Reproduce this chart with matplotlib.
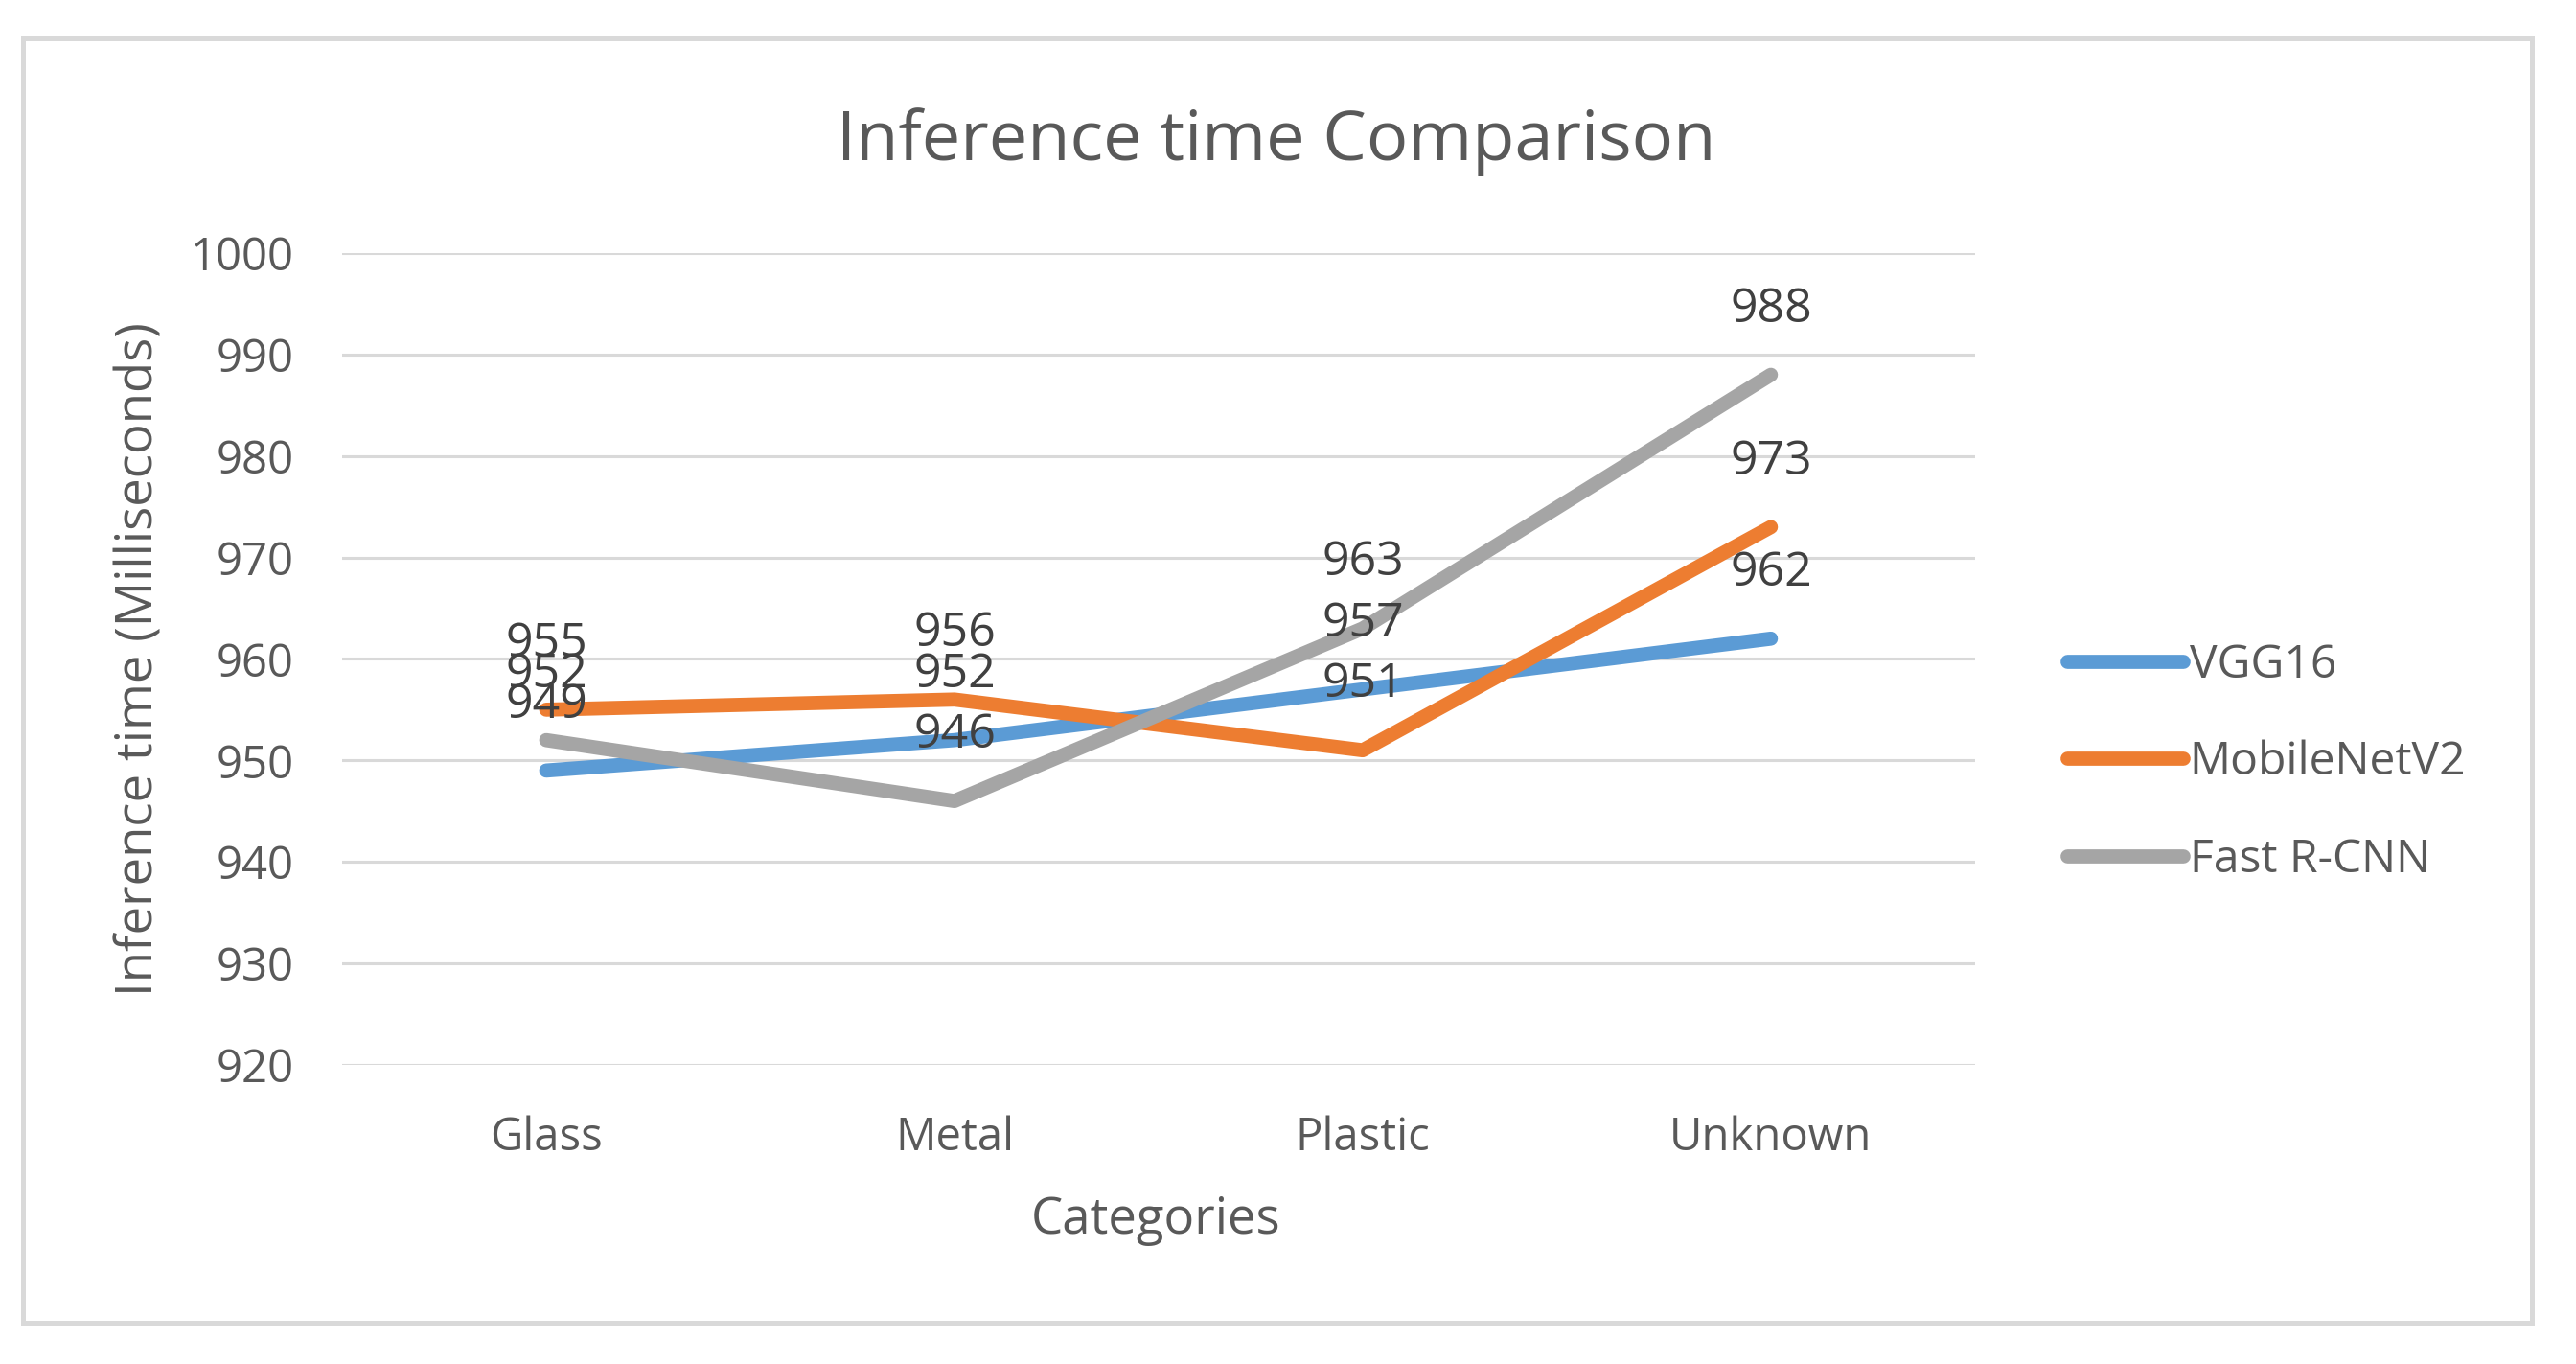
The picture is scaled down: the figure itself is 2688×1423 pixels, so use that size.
import matplotlib
matplotlib.use("Agg")
import matplotlib.pyplot as plt
from matplotlib.patches import Rectangle

plt.rcParams["font.family"] = ["Open Sans", "DejaVu Sans"]

# ------------------------------------------------------------
# data
# ------------------------------------------------------------
categories = ["Glass", "Metal", "Plastic", "Unknown"]
series_names = ["VGG16", "MobileNetV2", "Fast R-CNN"]
vgg16 = [949, 952, 957, 962]
mobilenetv2 = [955, 956, 951, 973]
fast_rcnn = [952, 946, 963, 988]
y_ticks = [920, 930, 940, 950, 960, 970, 980, 990, 1000]

colors = ["#5B9BD5", "#ED7D31", "#A5A5A5"]
TXT = "#595959"

fig = plt.figure(figsize=(13.44, 7.115), dpi=200)
ax = fig.add_axes([0.1328, 0.2193, 0.6339, 0.5952])

x = list(range(len(categories)))
for name, vals, c in zip(series_names, [vgg16, mobilenetv2, fast_rcnn], colors):
    ax.plot(x, vals, color=c, lw=5.3, solid_capstyle="round",
            solid_joinstyle="round", label=name, zorder=3)
    for xi, v in zip(x, vals):
        ax.annotate(str(v), (xi, v), xytext=(0, 24.5), textcoords="offset points",
                    ha="center", va="center", fontsize=18, color="#404040",
                    zorder=4)

ax.set_xlim(-0.5, 3.5)
ax.set_ylim(920, 1000)
ax.set_yticks(y_ticks)
ax.set_xticks(x)
ax.set_xticklabels(categories)
ax.tick_params(axis="both", length=0, labelsize=17, labelcolor=TXT)
ax.tick_params(axis="y", pad=18)
ax.tick_params(axis="x", pad=19)
ax.grid(axis="y", color="#D9D9D9", lw=1.1, zorder=0)
for s in ax.spines.values():
    s.set_visible(False)

fig.text(0.4955, 0.896, "Inference time Comparison", ha="center", va="center",
         fontsize=26, color=TXT)
fig.text(0.4485, 1 - 1273 / 1423, "Categories", ha="center", va="center",
         fontsize=19, color=TXT)
fig.text(0.0543, 0.517, "Inference time (Milliseconds)", ha="center",
         va="center", rotation=90, fontsize=19, color=TXT)

leg = fig.legend(loc="center left", bbox_to_anchor=(0.7865, 0.441),
                 frameon=False, fontsize=17.3, handlelength=2.5,
                 handletextpad=0.15, labelspacing=1.12, labelcolor=TXT)

fig.patches.append(Rectangle((0.0089, 0.030), 0.974, 0.9417,
                             transform=fig.transFigure, fill=False,
                             edgecolor="#D9D9D9", lw=1.8))

plt.savefig("out.png", dpi=200)
plt.close()
